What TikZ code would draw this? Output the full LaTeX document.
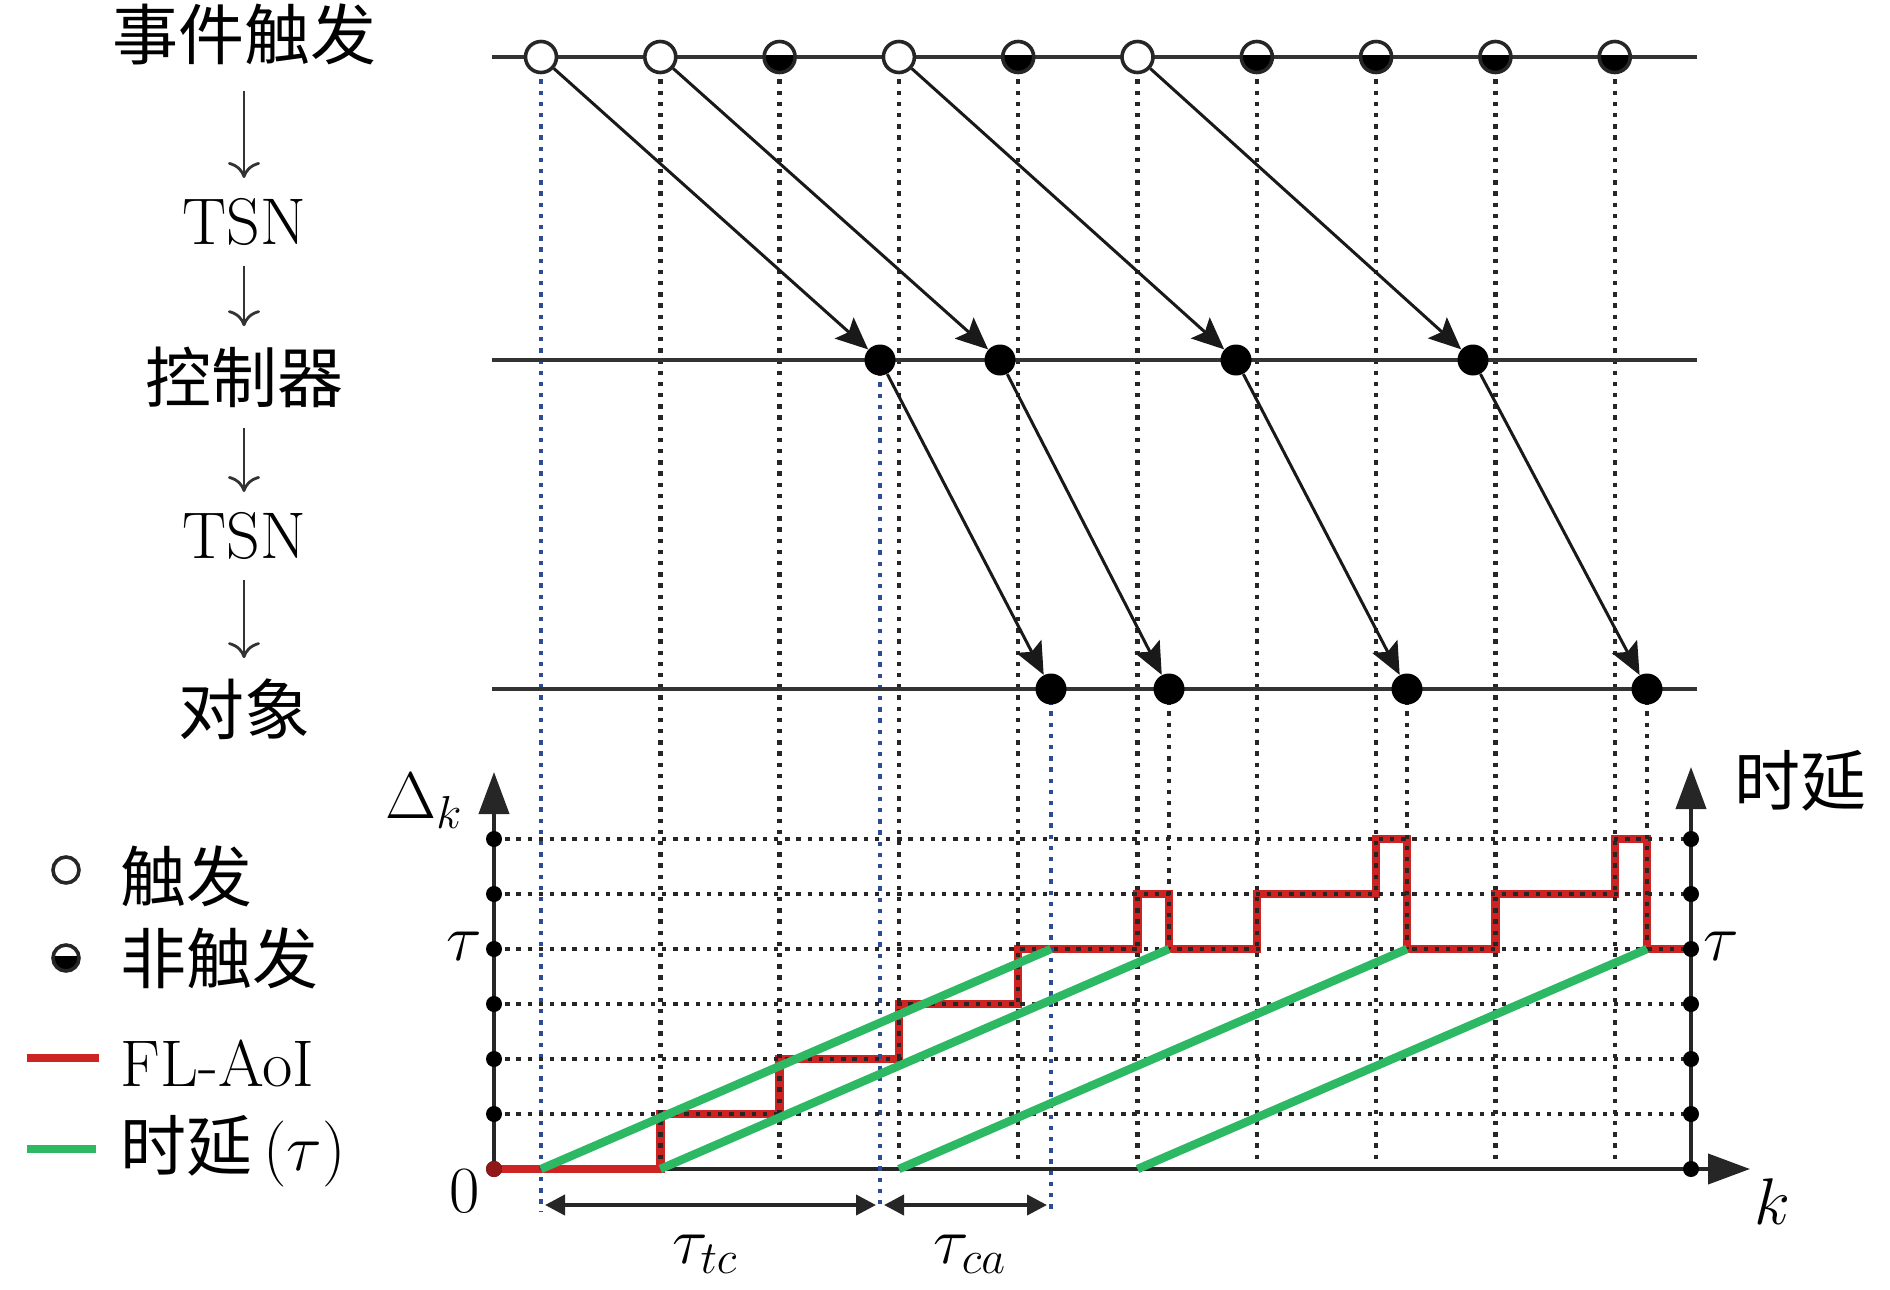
\RequirePackage{fix-cm}
\documentclass[tikz,border=0pt]{standalone}
\usepackage{fontspec}
\newfontfamily\cjk{Noto Sans CJK SC}
\usetikzlibrary{arrows.meta}
\definecolor{gridblue}{RGB}{45,75,150}
\definecolor{aoired}{RGB}{205,35,35}
\definecolor{delaygreen}{RGB}{45,185,100}
\tikzset{
 lbl/.style={font=\fontsize{33}{40}\selectfont, inner sep=0pt},
 cjklbl/.style={font=\fontsize{33}{40}\selectfont\cjk, inner sep=0pt},
 gridk/.style={black!85, line width=2.2pt, dash pattern=on 2.2pt off 3.4pt},
 gridb/.style={gridblue, line width=2.2pt, dash pattern=on 2.2pt off 3.4pt},
 rowline/.style={black!80, line width=2pt},
 trigmk/.style={circle, draw=black!85, fill=white, line width=1.8pt, minimum size=15.5pt, inner sep=0pt},
 nontrigmk/.style={trigmk, path picture={\fill[black] ([yshift=1pt]path picture bounding box.west) rectangle (path picture bounding box.south east);}},
 dotmk/.style={circle, fill=black, minimum size=15.5pt, inner sep=0pt},
 msgarrow/.style={black!90, line width=1.5pt, -{Stealth[length=16pt,width=14pt,inset=3pt]}},
 flowarrow/.style={black!80, line width=1.4pt, -{To[length=8pt,width=16pt]}, shorten <=10pt, shorten >=10pt},
 axisarrow/.style={black!85, line width=2pt, -{Triangle[length=21pt,width=15pt]}},
 spanarrow/.style={black!85, line width=2pt, {Triangle[length=10pt,width=10pt]}-{Triangle[length=10pt,width=10pt]}, shorten <=2pt, shorten >=2pt},
 aoiline/.style={aoired, line width=4.2pt},
 delayline/.style={delaygreen, line width=4.2pt},
}
\begin{document}
\begin{tikzpicture}[x=0.5pt,y=-0.5pt]
\useasboundingbox (0,0) rectangle (1890,1290);

% x axis first (red lies on it)
\draw[axisarrow] (494,1169) -- (1750,1169);

% FL-AoI step curve
\draw[aoiline] (494,1169) -- (660.3,1169) -- (660.3,1114) -- (779.6,1114) -- (779.6,1059)
 -- (898.9,1059) -- (898.9,1004) -- (1018.2,1004) -- (1018.2,949) -- (1137.5,949)
 -- (1137.5,894) -- (1169,894) -- (1169,949) -- (1256.8,949) -- (1256.8,894)
 -- (1376.1,894) -- (1376.1,839) -- (1407,839) -- (1407,949) -- (1495.4,949)
 -- (1495.4,894) -- (1614.7,894) -- (1614.7,839) -- (1647,839) -- (1647,949) -- (1691,949);

% vertical grid lines
\foreach \x in {660.3,779.6,898.9,1018.2,1137.5,1256.8,1376.1,1495.4,1614.7}
  \draw[gridk] (\x,57) -- (\x,1162);
\draw[gridb] (541,57) -- (541,1211);
\draw[gridb] (880,360) -- (880,1211);
\draw[gridb] (1051,689) -- (1051,1211);
\foreach \x in {1169,1407,1647}
  \draw[gridk] (\x,689) -- (\x,949);
% horizontal grid lines
\foreach \y in {839,894,949,1004,1059,1114}
  \draw[gridk] (494,\y) -- (1700,\y);

% delay lines
\draw[delayline] (541,1169) -- (1051,949);
\draw[delayline] (660.3,1169) -- (1169,949);
\draw[delayline] (898.9,1169) -- (1407,949);
\draw[delayline] (1137.5,1169) -- (1647,949);

% vertical axes
\draw[axisarrow] (494,1169) -- (494,772);
\draw[axisarrow] (1691,1169) -- (1691,767);
\foreach \y in {839,894,949,1004,1059,1114,1169} {
  \fill[black] (494,\y) circle[radius=4pt];
  \fill[black] (1691,\y) circle[radius=4pt];
}
\fill[aoired!70!black] (494,1169) circle[radius=4pt];

% row lines
\draw[rowline] (492,57) -- (1697,57);
\draw[rowline] (492,360) -- (1697,360);
\draw[rowline] (492,689) -- (1697,689);

% event markers
\node[trigmk] (t1) at (541,57) {};
\node[trigmk] (t2) at (660.3,57) {};
\node[nontrigmk] (t3) at (779.6,57) {};
\node[trigmk] (t4) at (898.9,57) {};
\node[nontrigmk] (t5) at (1018.2,57) {};
\node[trigmk] (t6) at (1137.5,57) {};
\node[nontrigmk] (t7) at (1256.8,57) {};
\node[nontrigmk] (t8) at (1376.1,57) {};
\node[nontrigmk] (t9) at (1495.4,57) {};
\node[nontrigmk] (t10) at (1614.7,57) {};

\node[dotmk] (c1) at (880,360) {};
\node[dotmk] (c2) at (1000,360) {};
\node[dotmk] (c3) at (1236,360) {};
\node[dotmk] (c4) at (1473,360) {};

\node[dotmk] (o1) at (1051,689) {};
\node[dotmk] (o2) at (1169,689) {};
\node[dotmk] (o3) at (1407,689) {};
\node[dotmk] (o4) at (1647,689) {};

\draw[msgarrow] (t1) -- (c1);
\draw[msgarrow] (t2) -- (c2);
\draw[msgarrow] (t4) -- (c3);
\draw[msgarrow] (t6) -- (c4);
\draw[msgarrow] (c1) -- (o1);
\draw[msgarrow] (c2) -- (o2);
\draw[msgarrow] (c3) -- (o3);
\draw[msgarrow] (c4) -- (o4);

% left column
\node[cjklbl] (ev) at (244,34) {事件触发};
\node[lbl] (tsn1) at (244,222) {TSN};
\node[cjklbl] (ctl) at (244,377) {控制器};
\node[lbl] (tsn2) at (244,536) {TSN};
\node[cjklbl] (obj) at (244,709) {对象};
\draw[flowarrow, shorten <=13pt] (ev) -- (tsn1);
\draw[flowarrow] (tsn1) -- (ctl);
\draw[flowarrow] (ctl) -- (tsn2);
\draw[flowarrow] (tsn2) -- (obj);

% chart labels
\node[lbl] (dk) at (424,801) {$\Delta_k$};
\node[lbl] (tauL) at (464,946) {$\tau$};
\node[lbl] (zero) at (465,1191) {0};
\node[cjklbl] (delayax) at (1800,781) {时延};
\node[lbl] (tauR) at (1721,946) {$\tau$};
\node[lbl] (kax) at (1772,1202) {$k$};

% spans
\coordinate (s0) at (541,1205);
\coordinate (s1) at (880,1205);
\coordinate (s2) at (1051,1205);
\draw[spanarrow] (s0) -- (s1);
\draw[spanarrow] (s1) -- (s2);
\node[lbl] (ttc) at (705,1254) {$\tau_{tc}$};
\node[lbl] (tca) at (970,1254) {$\tau_{ca}$};

% legend
\node[trigmk, minimum size=13pt] (lg1) at (66,870) {};
\node[cjklbl, anchor=west] (lg1t) at (120,876) {触发};
\node[nontrigmk, minimum size=13pt] (lg2) at (66,958) {};
\node[cjklbl, anchor=west] (lg2t) at (120,958) {非触发};
\coordinate (r0) at (27,1058);
\coordinate (r1) at (99,1058);
\draw[aoiline] (r0) -- (r1);
\node[lbl, anchor=west] (lg3t) at (120,1063) {FL-AoI};
\coordinate (g0) at (27,1149);
\coordinate (g1) at (96,1149);
\draw[delayline] (g0) -- (g1);
\node[lbl, anchor=west] (lg4t) at (120,1151) {{\cjk 时延}\,($\tau$)};
\end{tikzpicture}
\end{document}
